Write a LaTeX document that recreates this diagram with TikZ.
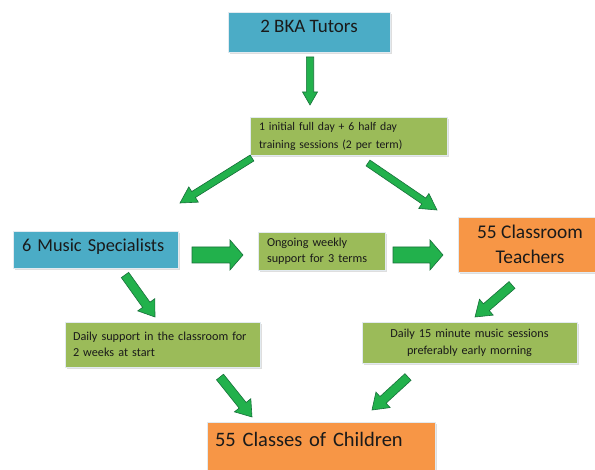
\documentclass[tikz,border=0pt]{standalone}
\usepackage{fontspec}
\setmainfont{Carlito}
\usetikzlibrary{calc,shadows}
\definecolor{boxblue}{HTML}{4BACC6}
\definecolor{boxgreen}{HTML}{9BBB59}
\definecolor{boxorange}{HTML}{F79646}
\definecolor{arrfill}{HTML}{22B14C}
\definecolor{arrline}{HTML}{17703A}
\definecolor{txtcol}{HTML}{1A1A1A}
\definecolor{boxedge}{HTML}{E2EAF0}
\newcommand\blockarrow[5]{%
  \coordinate (ba-p) at ($(#2)!#5!(#1)$);
  \filldraw[arrowstyle] ($(#1)!#3!90:(#2)$) -- ($(ba-p)!#3!90:(#2)$) -- ($(ba-p)!#4!90:(#2)$) -- (#2) -- ($(ba-p)!#4!-90:(#2)$) -- ($(ba-p)!#3!-90:(#2)$) -- ($(#1)!#3!-90:(#2)$) -- cycle;}
\begin{document}
\begin{tikzpicture}[x=1pt,y=-1pt,
  box/.style={draw=boxedge, line width=0.8pt, text=txtcol, inner sep=0pt,
    drop shadow={shadow xshift=2pt, shadow yshift=-2pt, fill=black!25, opacity=.5}},
  bluebox/.style={box, fill=boxblue},
  greenbox/.style={box, fill=boxgreen},
  orangebox/.style={box, fill=boxorange},
  arrowstyle/.style={fill=arrfill, draw=arrline, line width=0.6pt, line join=miter}]
\useasboundingbox (0,0) rectangle (595,470);
\clip (0,0) rectangle (595,470);
\fill[white] (0,0) rectangle (595,470);
% boxes
\node[bluebox, minimum width=162pt, minimum height=40pt, text height=12.5pt, text depth=10.5pt,
  font=\fontsize{19}{22}\selectfont] (tutors) at (309,32) {2 BKA Tutors};
\node[greenbox, minimum width=197pt, minimum height=38pt, text width=179pt, align=left,
  font=\fontsize{11.7}{18}\selectfont] (training) at (348.5,136)
  {1 initial full day + 6 half day\\training sessions (2 per term)};
\node[bluebox, minimum width=165pt, minimum height=37pt, text width=147pt, align=left,
  text height=12pt, text depth=7pt, font=\fontsize{18.3}{22}\selectfont] (music) at (95.5,249.5)
  {6 Music Specialists};
\node[greenbox, minimum width=127pt, minimum height=38pt, text width=109pt, align=left,
  font=\fontsize{12.2}{16.5}\selectfont] (ongoing) at (321.5,251)
  {Ongoing weekly\\support for 3 terms};
\node[orangebox, minimum width=144pt, minimum height=55pt, align=center,
  font=\fontsize{19.4}{25}\selectfont] (teachers) at (530,244.5)
  {55 Classroom\\Teachers};
\node[greenbox, minimum width=195pt, minimum height=45pt, text width=179pt, align=left,
  font=\fontsize{12.2}{16.5}\selectfont] (support) at (162.5,344.5)
  {Daily support in the classroom for\\2 weeks at start};
\node[greenbox, minimum width=215pt, minimum height=41pt, text width=199pt, align=center,
  font=\fontsize{12.2}{17}\selectfont] (sessions) at (469.5,342.5)
  {Daily 15 minute music sessions\\preferably early morning};
\node[orangebox, minimum width=228pt, minimum height=68pt, text width=212pt, align=left,
  text height=14pt, text depth=32pt, font=\fontsize{20.5}{24}\selectfont] (classes) at (321,456)
  {55 Classes of Children};
% arrow end points
\coordinate (a1s) at (310,57);  \coordinate (a1e) at (310,105);
\coordinate (a2s) at (252,158); \coordinate (a2e) at (180,203);
\coordinate (a3s) at (368,163); \coordinate (a3e) at (437,210);
\coordinate (a4s) at (192,255); \coordinate (a4e) at (243,255);
\coordinate (a5s) at (393,255); \coordinate (a5e) at (443,255);
\coordinate (a6s) at (125,275); \coordinate (a6e) at (155,317);
\coordinate (a7s) at (512,285); \coordinate (a7e) at (475,317);
\coordinate (a8s) at (220,377); \coordinate (a8e) at (252,417);
\coordinate (a9s) at (408,377); \coordinate (a9e) at (372,410);
\blockarrow{a1s}{a1e}{3.7pt}{7.5pt}{13pt}
\blockarrow{a2s}{a2e}{3.5pt}{9pt}{16pt}
\blockarrow{a3s}{a3e}{3.5pt}{9pt}{16pt}
\blockarrow{a4s}{a4e}{8pt}{15pt}{13pt}
\blockarrow{a5s}{a5e}{8pt}{15pt}{13pt}
\blockarrow{a6s}{a6e}{4.5pt}{10.5pt}{15pt}
\blockarrow{a7s}{a7e}{4.5pt}{10.5pt}{15pt}
\blockarrow{a8s}{a8e}{4.5pt}{10.5pt}{15pt}
\blockarrow{a9s}{a9e}{4.5pt}{10.5pt}{15pt}
\end{tikzpicture}
\end{document}
